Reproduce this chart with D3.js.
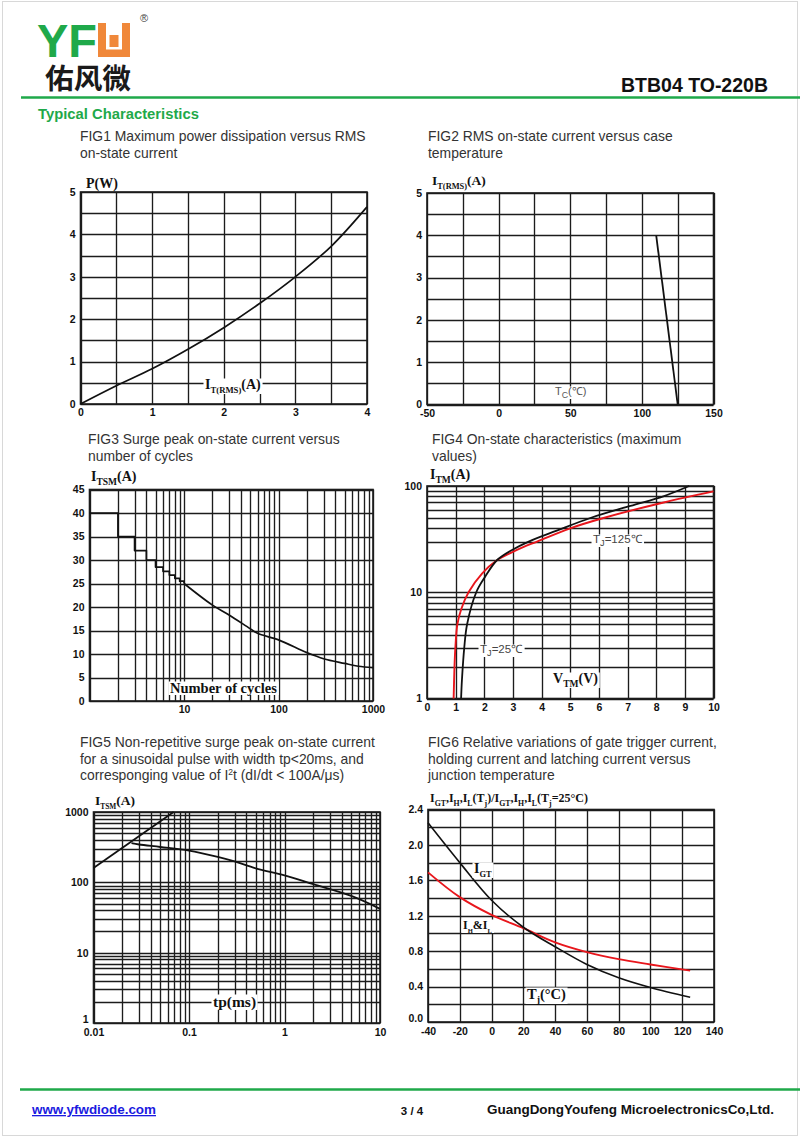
<!DOCTYPE html>
<html><head><meta charset="utf-8">
<script src="https://cdn.jsdelivr.net/npm/d3@7"></script>
<style>html,body{margin:0;padding:0;background:#fff}svg{display:block}</style>
</head><body>
<script>
// ---------------- DATA ----------------
const fig1Current = [0, 0.5, 1, 1.5, 2, 2.5, 3, 3.5, 4];
const fig1Power   = [0, 0.43, 0.83, 1.29, 1.80, 2.37, 3.0, 3.72, 4.65];
const fig1XTicks = [0, 1, 2, 3, 4];
const fig1YTicks = [0, 1, 2, 3, 4, 5];

const fig2Temp    = [110, 125];
const fig2Current = [4, 0];
const fig2XTicks = [-50, 0, 50, 100, 150];
const fig2YTicks = [0, 1, 2, 3, 4, 5];

const fig3StepCycles  = [1, 2, 3, 4, 5, 6, 7, 8, 9, 10];
const fig3StepCurrent = [40, 35, 32, 30, 28.5, 27.6, 26.8, 26.1, 25.5, 25];
const fig3Cycles  = [10, 20, 30, 50, 60, 100, 200, 300, 500, 700, 1000];
const fig3Current = [25, 20.4, 18.3, 15.4, 14.4, 13, 10.3, 9.0, 8.0, 7.4, 7.1];
const fig3XTicks = [10, 100, 1000];
const fig3YTicks = [0, 5, 10, 15, 20, 25, 30, 35, 40, 45];

const fig4Volt25  = [1.19, 1.22, 1.30, 1.40, 1.72, 2.03, 2.44, 2.97, 3.55, 4.53, 5.7, 7.1, 8.25, 9.15];
const fig4Curr25  = [1, 1.5, 3, 5, 10, 14, 20, 25, 30, 38, 50, 65, 80, 100];
const fig4Volt125 = [0.93, 0.96, 0.99, 1.06, 1.2, 1.45, 1.92, 2.44, 3.14, 3.84, 5.0, 6.16, 8.26, 10];
const fig4Curr125 = [1, 2, 3, 5, 7, 10, 15, 20, 25, 30, 40, 50, 70, 89];
const fig4XTicks = [0, 1, 2, 3, 4, 5, 6, 7, 8, 9, 10];
const fig4YTicks = [1, 10, 100];

const fig5I2tTime = [0.01, 0.069];
const fig5I2tCurr = [160, 1000];
const fig5Time = [0.025, 0.03, 0.05, 0.1, 0.2, 0.3, 0.5, 1, 2, 5, 10];
const fig5Curr = [360, 345, 318, 283, 230, 198, 158, 126, 94, 64, 42];
const fig5XTicks = [0.01, 0.1, 1, 10];
const fig5YTicks = [1, 10, 100, 1000];

const fig6Temp = [-40, -20, 0, 20, 40, 60, 80, 100, 125];
const fig6IGT  = [2.25, 1.80, 1.375, 1.07, 0.85, 0.65, 0.50, 0.39, 0.28];
const fig6IHL  = [1.69, 1.41, 1.21, 1.06, 0.90, 0.79, 0.71, 0.65, 0.58];
const fig6XTicks = [-40, -20, 0, 20, 40, 60, 80, 100, 120, 140];
const fig6YTicks = [0, 0.4, 0.8, 1.2, 1.6, 2.0, 2.4];

// ---------------- STYLE ----------------
const SANS = "'Liberation Sans', Arial, Helvetica, sans-serif";
const SERIF = "'Liberation Serif', 'Times New Roman', serif";
const GREEN = "#1fa94a";
const GRID = "#1c1c1c";
const RED = "#e8161c";

const svg = d3.select("body").append("svg").attr("width", 800).attr("height", 1137);
svg.append("rect").attr("x", 0).attr("y", 0).attr("width", 800).attr("height", 1137).attr("fill", "#fff");
svg.append("rect").attr("x", 2.5).attr("y", 1.5).attr("width", 795).attr("height", 1134)
  .attr("fill", "none").attr("stroke", "#d8d8d8").attr("stroke-width", 1);

// ---------------- HEADER ----------------
svg.append("text").attr("x", 37).attr("y", 57).text("YF")
  .attr("font-family", SANS).attr("font-weight", "bold").attr("font-size", 47)
  .attr("fill", GREEN).attr("textLength", 60).attr("lengthAdjust", "spacingAndGlyphs");
// orange stylised W
const logo = svg.append("g").attr("fill", "#f0883a");
logo.append("path").attr("d", "M98,23 H106 V49.5 H122 V23 H130 V57 H98 Z");
logo.append("rect").attr("x", 109.5).attr("y", 35).attr("width", 9).attr("height", 12);
svg.append("text").attr("x", 140).attr("y", 22).text("®").attr("font-family", SANS).attr("font-size", 11).attr("fill", "#444");
svg.append("text").attr("x", 45).attr("y", 88.5).text("佑风微")
  .attr("font-family", "'Noto Sans CJK SC', sans-serif").attr("font-weight", "bold").attr("font-size", 28.5).attr("fill", "#1a1a1a")
  .attr("textLength", 86).attr("lengthAdjust", "spacingAndGlyphs");

svg.append("line").attr("x1", 21).attr("x2", 800).attr("y1", 97.5).attr("y2", 97.5).attr("stroke", GREEN).attr("stroke-width", 2.5);
svg.append("text").attr("x", 768).attr("y", 92).attr("text-anchor", "end").text("BTB04 TO-220B")
  .attr("font-family", SANS).attr("font-weight", "bold").attr("font-size", 19.5).attr("fill", "#111");
svg.append("text").attr("x", 38).attr("y", 119).text("Typical Characteristics")
  .attr("font-family", SANS).attr("font-weight", "bold").attr("font-size", 14.8).attr("fill", GREEN);

// ---------------- FOOTER ----------------
svg.append("line").attr("x1", 20).attr("x2", 800).attr("y1", 1089.5).attr("y2", 1089.5).attr("stroke", GREEN).attr("stroke-width", 2.5);
svg.append("text").attr("x", 32).attr("y", 1114).text("www.yfwdiode.com")
  .attr("font-family", SANS).attr("font-weight", "bold").attr("font-size", 13).attr("fill", "#1a1ae0")
  .attr("text-decoration", "underline").attr("textLength", 124).attr("lengthAdjust", "spacingAndGlyphs");
svg.append("text").attr("x", 412).attr("y", 1115).attr("text-anchor", "middle").text("3 / 4")
  .attr("font-family", SANS).attr("font-weight", "bold").attr("font-size", 11.5).attr("fill", "#111");
svg.append("text").attr("x", 487).attr("y", 1114).text("GuangDongYoufeng MicroelectronicsCo,Ltd.")
  .attr("font-family", SANS).attr("font-weight", "bold").attr("font-size", 12.5).attr("fill", "#111")
  .attr("textLength", 287).attr("lengthAdjust", "spacingAndGlyphs");

// ---------------- HELPERS ----------------
const TITLE_SIZE = 13.9, TITLE_LH = 16.5;
function titleLines(x, y, lines) {
  const t = svg.append("text").attr("font-family", SANS).attr("font-size", TITLE_SIZE).attr("fill", "#333");
  lines.forEach((s, i) => t.append("tspan").attr("x", x).attr("y", y + i * TITLE_LH).text(s));
  return t;
}
// parts: [text, kind] kind: 'n' or 'sub'
function rich(g, x, y, parts, opt) {
  const t = g.append("text").attr("x", x).attr("y", y)
    .attr("font-family", opt.family).attr("font-weight", opt.weight || "normal")
    .attr("font-size", opt.size).attr("fill", opt.fill || "#111");
  let shifted = 0;
  parts.forEach(([s, k]) => {
    const sp = t.append("tspan").text(s);
    if (k === "sub") {
      sp.attr("font-size", opt.size * (opt.subScale || 0.68));
      const d = opt.subDy || 4;
      sp.attr("dy", d - shifted); shifted = d;
    } else {
      if (shifted) { sp.attr("dy", -shifted); shifted = 0; }
    }
  });
  if (opt.bg) {
    const b = t.node().getBBox();
    g.insert("rect", () => t.node()).attr("x", b.x - 1.5).attr("y", b.y + 1.5).attr("width", b.width + 3).attr("height", b.height - 2.5).attr("fill", "#fff");
  }
  return t;
}

function panel(cfg) {
  const g = svg.append("g");
  const x = (cfg.xlog ? d3.scaleLog() : d3.scaleLinear()).domain(cfg.xd).range([cfg.l, cfg.r]);
  const y = (cfg.ylog ? d3.scaleLog() : d3.scaleLinear()).domain(cfg.yd).range([cfg.b, cfg.t]);
  const xg = cfg.xlog ? x.ticks() : d3.range(cfg.xd[0], cfg.xd[1] + 1e-9, cfg.xstep);
  const yg = cfg.ylog ? y.ticks() : d3.range(cfg.yd[0], cfg.yd[1] + 1e-9, cfg.ystep);
  const grid = g.append("g").attr("stroke", GRID).attr("stroke-width", 1.35);
  grid.selectAll(".vx").data(xg).join("line")
    .attr("x1", d => Math.round(x(d)) + 0.5).attr("x2", d => Math.round(x(d)) + 0.5)
    .attr("y1", cfg.t).attr("y2", cfg.b);
  grid.selectAll(".hy").data(yg).join("line")
    .attr("y1", d => Math.round(y(d)) + 0.5).attr("y2", d => Math.round(y(d)) + 0.5)
    .attr("x1", cfg.l).attr("x2", cfg.r);
  g.append("rect").attr("x", cfg.l).attr("y", cfg.t).attr("width", cfg.r - cfg.l).attr("height", cfg.b - cfg.t)
    .attr("fill", "none").attr("stroke", GRID).attr("stroke-width", 1.6);

  const ax = g.append("g").attr("transform", `translate(0,${cfg.b})`)
    .call(d3.axisBottom(x).tickValues(cfg.xticks).tickSize(0).tickPadding(cfg.xpad || 5).tickFormat(cfg.xfmt || (d => d)));
  const ay = g.append("g").attr("transform", `translate(${cfg.l},0)`)
    .call(d3.axisLeft(y).tickValues(cfg.yticks).tickSize(0).tickPadding(cfg.ypad || 5).tickFormat(cfg.yfmt || (d => d)));
  [ax, ay].forEach(a => {
    a.select(".domain").remove();
    a.selectAll("text").attr("font-family", SANS).attr("font-weight", "bold").attr("font-size", 10.5).attr("fill", "#111");
  });
  if (cfg.liftFirstY) {
    ay.selectAll(".tick").filter(d => d === cfg.yd[0]).select("text").attr("dy", "-0.05em");
  }
  return { g, x, y };
}

function drawLine(p, xs, ys, color, curve, w) {
  const pts = xs.map((v, i) => [v, ys[i]]);
  p.g.append("path").datum(pts)
    .attr("d", d3.line().x(d => p.x(d[0])).y(d => p.y(d[1])).curve(curve || d3.curveLinear))
    .attr("fill", "none").attr("stroke", color).attr("stroke-width", w || 1.6).attr("stroke-linejoin", "round");
}

const boldSerif = { family: SERIF, weight: "bold", size: 14, fill: "#111" };

// ---------------- FIG1 ----------------
titleLines(80, 141, ["FIG1 Maximum power dissipation versus RMS", "on-state current"]);
const p1 = panel({ l: 80.5, r: 367, t: 192, b: 404, xd: [0, 4], yd: [0, 5], xstep: 0.5, ystep: 0.5,
  xticks: fig1XTicks, yticks: fig1YTicks });
drawLine(p1, fig1Current, fig1Power, "#111", d3.curveCatmullRom.alpha(0.5), 1.7);
rich(p1.g, 205, 389, [["I", "n"], ["T(RMS)", "sub"], ["(A)", "n"]], Object.assign({ bg: true }, boldSerif, { subScale: 0.62 }));
rich(p1.g, 86, 188, [["P(W)", "n"]], boldSerif);

// ---------------- FIG2 ----------------
titleLines(428, 141, ["FIG2 RMS on-state current versus case", "temperature"]);
const p2 = panel({ l: 427, r: 713.5, t: 193, b: 404.5, xd: [-50, 150], yd: [0, 5], xstep: 25, ystep: 0.5,
  xticks: fig2XTicks, yticks: fig2YTicks });
drawLine(p2, fig2Temp, fig2Current, "#111", d3.curveLinear, 1.8);
rich(p2.g, 555, 395, [["T", "n"], ["C", "sub"], ["(℃)", "n"]], { family: SANS, size: 11, fill: "#555", bg: true, subDy: 3, subScale: 0.8 });
rich(p2.g, 432, 185, [["I", "n"], ["T(RMS)", "sub"], ["(A)", "n"]], Object.assign({}, boldSerif, { size: 13.5, subScale: 0.62 }));

// ---------------- FIG3 ----------------
titleLines(88, 444, ["FIG3 Surge peak on-state current versus", "number of cycles"]);
const p3 = panel({ l: 89.5, r: 373, t: 489.5, b: 701, xlog: true, xd: [1, 1000], yd: [0, 45], ystep: 5,
  xticks: fig3XTicks, yticks: fig3YTicks });
drawLine(p3, fig3StepCycles, fig3StepCurrent, "#111", d3.curveStepAfter, 1.7);
drawLine(p3, fig3Cycles, fig3Current, "#111", d3.curveCatmullRom.alpha(0.5), 1.7);
rich(p3.g, 170, 693, [["Number of cycles", "n"]], Object.assign({ bg: true }, boldSerif, { size: 14.5 }));
rich(p3.g, 91, 481, [["I", "n"], ["TSM", "sub"], ["(A)", "n"]], boldSerif);

// ---------------- FIG4 ----------------
titleLines(432, 444, ["FIG4 On-state characteristics (maximum", "values)"]);
const p4 = panel({ l: 427, r: 713.5, t: 486, b: 698.5, xd: [0, 10], ylog: true, yd: [1, 100], xstep: 1,
  xticks: fig4XTicks, yticks: fig4YTicks, yfmt: d3.format("d") });
drawLine(p4, fig4Volt125, fig4Curr125, RED, d3.curveCatmullRom.alpha(0.5), 1.9);
drawLine(p4, fig4Volt25, fig4Curr25, "#111", d3.curveCatmullRom.alpha(0.5), 1.8);
rich(p4.g, 593, 543, [["T", "n"], ["J", "sub"], ["=125℃", "n"]], { family: SANS, size: 11.5, fill: "#444", bg: true, subDy: 3, subScale: 0.8 });
rich(p4.g, 480, 653, [["T", "n"], ["J", "sub"], ["=25℃", "n"]], { family: SANS, size: 11.5, fill: "#444", bg: true, subDy: 3, subScale: 0.8 });
rich(p4.g, 553, 683, [["V", "n"], ["TM", "sub"], ["(V)", "n"]], Object.assign({ bg: true }, boldSerif));
rich(p4.g, 430, 479, [["I", "n"], ["TM", "sub"], ["(A)", "n"]], boldSerif);

// ---------------- FIG5 ----------------
titleLines(80, 747, ["FIG5 Non-repetitive surge peak on-state current",
  "for a sinusoidal pulse with width tp<20ms, and"]);
{
  const t = svg.append("text").attr("x", 80).attr("y", 747 + 2 * TITLE_LH).attr("font-family", SANS).attr("font-size", TITLE_SIZE).attr("fill", "#333");
  t.append("tspan").text("corresponging value of I");
  t.append("tspan").text("2").attr("font-size", 8.5).attr("dy", -5);
  t.append("tspan").text("t (dI/dt < 100A/μs)").attr("dy", 5);
}
const p5 = panel({ l: 93.5, r: 380, t: 812, b: 1023, xlog: true, xd: [0.01, 10], ylog: true, yd: [1, 1000],
  xticks: fig5XTicks, yticks: fig5YTicks, xfmt: d => String(d), yfmt: d3.format("d"), liftFirstY: true, xpad: 6 });
drawLine(p5, fig5I2tTime, fig5I2tCurr, "#111", d3.curveLinear, 1.8);
drawLine(p5, fig5Time, fig5Curr, "#111", d3.curveCatmullRom.alpha(0.5), 1.8);
rich(p5.g, 213, 1007, [["tp(ms)", "n"]], Object.assign({ bg: true }, boldSerif, { size: 15.5 }));
rich(p5.g, 95, 805, [["I", "n"], ["TSM", "sub"], ["(A)", "n"]], Object.assign({}, boldSerif, { size: 13.5, subScale: 0.55 }));

// ---------------- FIG6 ----------------
titleLines(428, 747, ["FIG6 Relative variations of gate trigger current,",
  "holding current and latching current versus", "junction temperature"]);
const p6 = panel({ l: 428, r: 714, t: 809.5, b: 1022, xd: [-40, 140], yd: [0, 2.4], xstep: 20, ystep: 0.2,
  xticks: fig6XTicks, yticks: fig6YTicks, yfmt: d3.format(".1f"), liftFirstY: true, xpad: 6 });
drawLine(p6, fig6Temp, fig6IHL, RED, d3.curveCatmullRom.alpha(0.5), 1.9);
drawLine(p6, fig6Temp, fig6IGT, "#111", d3.curveCatmullRom.alpha(0.5), 1.6);
rich(p6.g, 474, 873, [["I", "n"], ["GT", "sub"]], Object.assign({ bg: true }, boldSerif, { subScale: 0.6 }));
rich(p6.g, 463, 929, [["I", "n"], ["H", "sub"], ["&I", "n"], ["L", "sub"]], Object.assign({ bg: true }, boldSerif, { size: 12, subScale: 0.55 }));
rich(p6.g, 527, 999, [["T", "n"], ["j", "sub"], ["(°C)", "n"]], Object.assign({ bg: true }, boldSerif, { size: 14.5 }));
rich(p6.g, 430, 802, [["I", "n"], ["GT", "sub"], [",I", "n"], ["H", "sub"], [",I", "n"], ["L", "sub"], ["(T", "n"], ["j", "sub"],
  [")/I", "n"], ["GT", "sub"], [",I", "n"], ["H", "sub"], [",I", "n"], ["L", "sub"], ["(T", "n"], ["j", "sub"], ["=25°C)", "n"]],
  Object.assign({}, boldSerif, { size: 12, subScale: 0.65 }));
</script>
</body></html>
